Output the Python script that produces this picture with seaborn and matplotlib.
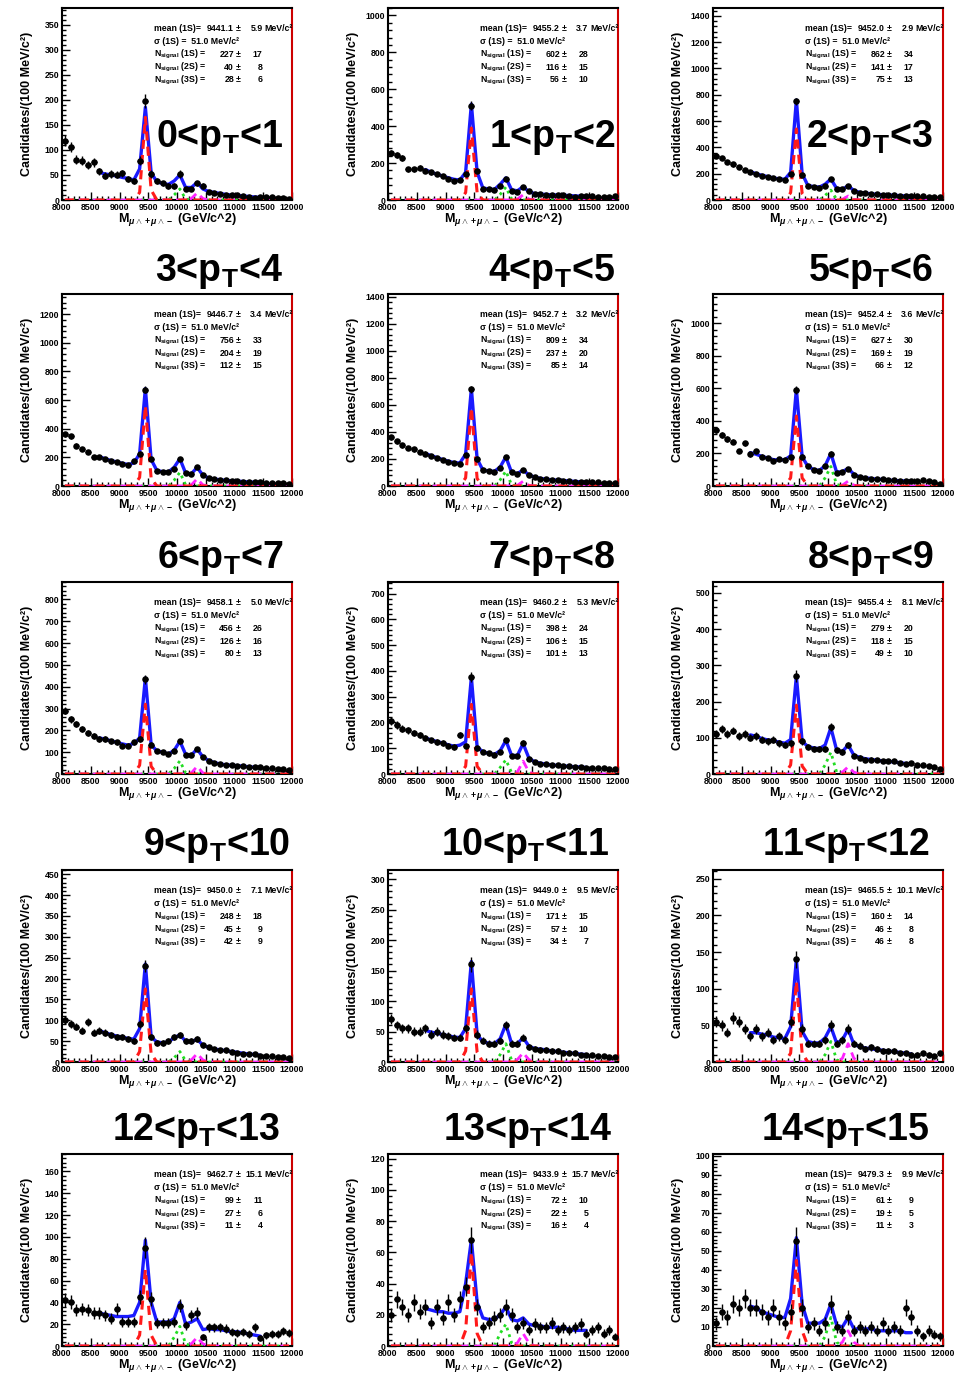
import numpy as np
import matplotlib
matplotlib.use("Agg")
import matplotlib.pyplot as plt
from matplotlib.ticker import MultipleLocator, AutoMinorLocator
import seaborn as sns

sns.set_style("ticks")
plt.rcParams["font.family"] = ["Liberation Sans", "DejaVu Sans"]
plt.rcParams["font.weight"] = "bold"
plt.rcParams["text.color"] = "black"
plt.rcParams["axes.labelcolor"] = "black"
plt.rcParams["xtick.color"] = "black"
plt.rcParams["ytick.color"] = "black"
plt.rcParams["mathtext.fontset"] = "custom"
plt.rcParams["mathtext.rm"] = "Liberation Sans:bold"
plt.rcParams["mathtext.bf"] = "Liberation Sans:bold"
plt.rcParams["mathtext.sf"] = "Liberation Sans:bold"
plt.rcParams["mathtext.it"] = "Liberation Sans:italic:bold"

# ---------------- data ----------------
pt_lo = [0, 1, 2, 3, 4, 5, 6, 7, 8, 9, 10, 11, 12, 13, 14]
pt_hi = [1, 2, 3, 4, 5, 6, 7, 8, 9, 10, 11, 12, 13, 14, 15]

mass_lo, mass_hi, bin_w = 8000, 12000, 100
fit_lo, fit_hi = 8600, 11500

mean_1s = [9441.1, 9455.2, 9452.0, 9446.7, 9452.7, 9452.4, 9458.1, 9460.2,
           9455.4, 9450.0, 9449.0, 9465.5, 9462.7, 9433.9, 9479.3]
mean_1s_err = [5.9, 3.7, 2.9, 3.4, 3.2, 3.6, 5.0, 5.3, 8.1, 7.1, 9.5, 10.1, 15.1, 15.7, 9.9]
sigma_1s = 51.0
n_1s = [227, 602, 862, 756, 809, 627, 456, 398, 279, 248, 171, 160, 99, 72, 61]
n_1s_err = [17, 28, 34, 33, 34, 30, 26, 24, 20, 18, 15, 14, 11, 10, 9]
n_2s = [40, 116, 141, 204, 237, 169, 126, 106, 118, 45, 57, 46, 27, 22, 19]
n_2s_err = [8, 15, 17, 19, 20, 19, 16, 15, 15, 9, 10, 8, 6, 5, 5]
n_3s = [28, 56, 75, 112, 85, 66, 80, 101, 49, 42, 34, 46, 11, 16, 11]
n_3s_err = [6, 10, 13, 15, 14, 12, 13, 13, 10, 9, 7, 8, 4, 4, 3]

# candidate counts per 100 MeV bin (8050 ... 11950)
counts_pt0 = [118, 105, 80, 78, 70, 75, 57, 48, 52, 50, 53, 42, 38, 78, 198, 52, 38, 33, 28, 28,
              52, 22, 22, 33, 28, 15, 14, 12, 10, 10, 10, 8, 5, 4, 6, 6, 5, 4, 3, 2]
counts_pt1 = [256, 244, 229, 167, 167, 176, 158, 149, 140, 131, 113, 104, 107, 140, 511, 158, 59, 57, 54, 77,
              116, 50, 41, 68, 50, 32, 32, 29, 29, 27, 27, 23, 18, 23, 21, 20, 18, 18, 18, 20]
counts_pt2 = [337, 320, 290, 270, 250, 230, 215, 200, 185, 175, 165, 160, 155, 200, 750, 190, 110, 100, 95, 110,
              160, 85, 80, 105, 70, 55, 50, 45, 42, 40, 38, 36, 33, 30, 30, 28, 27, 25, 25, 24]
counts_pt3 = [360, 347, 280, 257, 236, 200, 200, 187, 174, 167, 153, 146, 174, 222, 673, 187, 104, 97, 97, 118,
              187, 90, 83, 132, 76, 55, 49, 42, 40, 35, 35, 30, 28, 25, 25, 22, 20, 18, 18, 16]
counts_pt4 = [360, 330, 300, 280, 270, 250, 240, 225, 210, 195, 180, 170, 165, 230, 715, 200, 115, 110, 105, 130,
              215, 100, 90, 115, 80, 65, 55, 50, 45, 42, 40, 36, 33, 30, 30, 28, 27, 25, 24, 22]
counts_pt5 = [342, 312, 288, 272, 215, 262, 195, 215, 181, 171, 151, 167, 161, 179, 590, 181, 121, 101, 91, 121,
              199, 80, 87, 107, 70, 54, 50, 46, 40, 40, 34, 34, 30, 30, 30, 30, 34, 30, 22, 14]
counts_pt6 = [290, 250, 230, 205, 190, 175, 160, 160, 150, 145, 130, 130, 145, 160, 435, 135, 105, 100, 90, 105,
              150, 88, 85, 115, 78, 60, 50, 45, 40, 40, 38, 36, 33, 30, 30, 28, 27, 25, 22, 20]
counts_pt7 = [205, 190, 175, 170, 160, 150, 140, 130, 125, 120, 110, 105, 150, 110, 375, 100, 85, 80, 75, 85,
              130, 70, 70, 120, 60, 45, 40, 38, 35, 33, 30, 30, 28, 27, 25, 25, 23, 22, 20, 18]
counts_pt8 = [110, 125, 110, 120, 105, 110, 100, 105, 95, 90, 95, 85, 80, 85, 270, 90, 75, 70, 70, 70,
              130, 65, 60, 80, 50, 45, 40, 40, 38, 35, 35, 35, 30, 28, 30, 25, 25, 22, 20, 15]
counts_pt9 = [100, 90, 85, 75, 95, 70, 75, 70, 65, 60, 60, 55, 50, 90, 230, 60, 45, 45, 50, 60,
              65, 50, 50, 55, 40, 35, 30, 28, 28, 25, 22, 20, 18, 18, 15, 15, 14, 12, 12, 10]
counts_pt10 = [70, 60, 55, 55, 50, 50, 55, 45, 50, 45, 42, 40, 40, 55, 160, 45, 35, 30, 30, 35,
               60, 30, 30, 40, 25, 22, 20, 20, 18, 18, 15, 15, 15, 12, 12, 12, 10, 10, 8, 8]
counts_pt11 = [55, 50, 40, 60, 55, 45, 35, 45, 35, 40, 30, 35, 30, 55, 140, 45, 25, 25, 25, 30,
               50, 25, 30, 45, 25, 22, 18, 20, 18, 15, 15, 15, 12, 12, 10, 10, 12, 10, 8, 12]
counts_pt12 = [42, 40, 33, 34, 33, 30, 30, 28, 25, 34, 22, 22, 22, 45, 90, 43, 21, 21, 21, 22,
               37, 19, 28, 30, 8, 17, 17, 17, 16, 13, 12, 13, 11, 17, 7, 10, 11, 11, 14, 12]
counts_pt13 = [20, 30, 25, 20, 28, 22, 25, 15, 25, 18, 28, 20, 30, 38, 68, 25, 12, 15, 18, 20,
               25, 20, 12, 15, 10, 14, 12, 12, 15, 10, 12, 10, 12, 14, 8, 10, 12, 8, 10, 6]
counts_pt14 = [12, 18, 15, 22, 20, 25, 20, 20, 18, 15, 20, 15, 12, 18, 55, 20, 10, 12, 8, 12,
               22, 10, 8, 15, 8, 10, 8, 10, 8, 12, 8, 10, 8, 20, 15, 8, 5, 8, 6, 5]

# total fit curve at bin centres 8650 ... 11450
fit_pt0 = [55, 52, 50, 48, 45, 43, 40, 62, 185, 55, 36, 33, 31, 38, 50, 25, 25, 35, 22, 17, 15, 13, 11, 10, 9, 8, 7, 6, 5]
fit_pt1 = [165, 150, 140, 130, 120, 112, 108, 150, 520, 150, 65, 60, 57, 85, 120, 55, 50, 72, 45, 35, 32, 30, 28, 27, 25, 24, 22, 21, 20]
fit_pt2 = [215, 200, 188, 178, 168, 160, 158, 210, 760, 200, 110, 102, 98, 120, 160, 88, 82, 108, 72, 58, 52, 47, 43, 40, 38, 36, 33, 31, 30]
fit_pt3 = [205, 190, 178, 168, 158, 150, 160, 225, 680, 185, 108, 100, 98, 130, 190, 90, 85, 130, 75, 56, 49, 43, 40, 36, 34, 31, 28, 26, 25]
fit_pt4 = [240, 225, 210, 196, 183, 173, 170, 235, 720, 200, 118, 112, 108, 140, 215, 100, 92, 118, 82, 66, 56, 50, 46, 43, 40, 37, 34, 31, 30]
fit_pt5 = [205, 195, 182, 172, 162, 160, 162, 185, 595, 180, 120, 102, 95, 125, 200, 85, 88, 108, 72, 56, 50, 46, 42, 40, 36, 34, 32, 31, 30]
fit_pt6 = [165, 160, 152, 145, 138, 132, 140, 165, 440, 135, 105, 100, 92, 108, 150, 90, 86, 115, 78, 62, 52, 46, 42, 40, 38, 36, 33, 31, 30]
fit_pt7 = [140, 132, 126, 120, 113, 108, 112, 125, 375, 105, 86, 80, 76, 90, 130, 72, 72, 118, 62, 47, 42, 38, 35, 33, 31, 30, 28, 27, 25]
fit_pt8 = [108, 104, 98, 94, 92, 88, 85, 95, 270, 90, 76, 72, 70, 80, 128, 66, 62, 80, 52, 46, 42, 40, 38, 36, 35, 33, 31, 29, 28]
fit_pt9 = [75, 70, 66, 62, 60, 56, 55, 80, 235, 60, 48, 46, 48, 58, 65, 50, 48, 55, 40, 35, 31, 29, 27, 25, 23, 21, 19, 18, 16]
fit_pt10 = [52, 49, 47, 45, 43, 41, 40, 55, 165, 45, 33, 31, 30, 38, 62, 30, 30, 40, 26, 22, 21, 20, 18, 17, 16, 15, 14, 13, 12]
fit_pt11 = [40, 40, 38, 37, 34, 33, 32, 48, 140, 42, 28, 26, 26, 33, 48, 26, 30, 45, 24, 21, 19, 18, 17, 16, 15, 14, 13, 12, 11]
fit_pt12 = [30, 29, 28, 27, 27, 27, 28, 40, 97, 40, 22, 22, 22, 25, 40, 20, 22, 25, 15, 16, 15, 15, 14, 13, 13, 12, 11, 10, 9]
fit_pt13 = [24, 23, 22, 22, 21, 21, 22, 40, 68, 28, 18, 17, 17, 20, 25, 17, 16, 18, 14, 13, 13, 12, 12, 12, 11, 11, 10, 10, 10]
fit_pt14 = [21, 20, 18, 17, 16, 15, 15, 25, 57, 22, 12, 12, 12, 14, 22, 11, 10, 15, 9, 9, 9, 9, 8, 8, 8, 8, 8, 7, 7]

# signal components around each peak (three bins each)
y1s_pt = [[15, 165, 20], [40, 390, 40], [55, 540, 50], [60, 560, 55], [60, 580, 55],
          [50, 430, 50], [40, 320, 35], [30, 270, 30], [25, 190, 22], [25, 175, 20],
          [18, 120, 16], [12, 110, 12], [10, 70, 10], [10, 60, 8], [8, 45, 8]]
y2s_pt = [[10, 22, 2], [30, 70, 5], [35, 75, 5], [40, 95, 8], [45, 110, 8],
          [50, 120, 10], [25, 60, 5], [25, 55, 5], [25, 60, 5], [10, 25, 3],
          [12, 30, 3], [10, 28, 3], [8, 18, 2], [8, 14, 2], [5, 15, 2]]
y3s_pt = [[3, 14, 3], [5, 28, 5], [5, 30, 5], [8, 50, 8], [5, 35, 5],
          [5, 30, 5], [5, 35, 5], [8, 50, 8], [5, 20, 5], [5, 20, 5],
          [4, 15, 4], [5, 25, 5], [2, 8, 2], [2, 8, 2], [2, 8, 2]]

counts_all = [counts_pt0, counts_pt1, counts_pt2, counts_pt3, counts_pt4, counts_pt5, counts_pt6,
              counts_pt7, counts_pt8, counts_pt9, counts_pt10, counts_pt11, counts_pt12,
              counts_pt13, counts_pt14]
fit_all = [fit_pt0, fit_pt1, fit_pt2, fit_pt3, fit_pt4, fit_pt5, fit_pt6, fit_pt7, fit_pt8,
           fit_pt9, fit_pt10, fit_pt11, fit_pt12, fit_pt13, fit_pt14]

# ---------------- layout / style ----------------
y_top = [383, 1040, 1460, 1340, 1420, 1180, 880, 745, 530, 460, 315, 262, 176, 123, 101]
y_step = [50, 200, 200, 200, 200, 200, 100, 100, 100, 50, 50, 50, 20, 20, 10]

W, H = 965, 1375
fig = plt.figure(figsize=(W / 100, H / 100), dpi=100)
col_left = [62, 388, 713]
row_top = [8, 294, 582, 870, 1154]
ax_w, ax_h = 230, 192
title_right = [[283, 615, 933], [283, 615, 933], [283, 615, 933], [290, 610, 930], [280, 612, 930]]
title_base = [147, 281, 568, 855, 1140]

centers = np.arange(mass_lo + bin_w / 2, mass_hi, bin_w)
fit_x = centers[(centers > fit_lo) & (centers < fit_hi)]
idx1 = np.searchsorted(centers, 9450)
idx2 = np.searchsorted(centers, 10050)
idx3 = np.searchsorted(centers, 10350)

blue = "#1a1aff"
red = "#ff1a1a"
green = "#22dd22"
magenta = "#ff22ff"

for i in range(15):
    r, c = divmod(i, 3)
    ax = fig.add_axes([col_left[c] / W, 1 - (row_top[r] + ax_h) / H, ax_w / W, ax_h / H])
    y = np.asarray(counts_all[i], dtype=float)

    comp1 = np.zeros_like(centers)
    comp1[idx1 - 1:idx1 + 2] = y1s_pt[i]
    comp2 = np.zeros_like(centers)
    comp2[idx2 - 1:idx2 + 2] = y2s_pt[i]
    comp3 = np.zeros_like(centers)
    comp3[idx3 - 1:idx3 + 2] = y3s_pt[i]

    sns.lineplot(x=fit_x, y=fit_all[i], ax=ax, color=blue, linewidth=2.4, zorder=3)
    ax.plot(centers, comp2, color=green, linestyle=(0, (1, 1.5)), linewidth=2.0, zorder=4)
    ax.plot(centers, comp3, color=magenta, linestyle=(0, (3, 2)), linewidth=2.0, zorder=4)
    ax.plot(centers, comp1, color=red, linestyle=(0, (3, 2)), linewidth=2.2, zorder=4)

    ax.errorbar(centers, y, yerr=np.sqrt(y), xerr=bin_w / 2, fmt="none",
                ecolor="black", elinewidth=1.0, capsize=0, zorder=5)
    sns.scatterplot(x=centers, y=y, ax=ax, color="black", s=22, marker="o",
                    linewidth=0, zorder=6)

    ax.set_xlim(mass_lo, mass_hi)
    ax.set_ylim(0, y_top[i])
    ax.xaxis.set_major_locator(MultipleLocator(500))
    ax.xaxis.set_minor_locator(AutoMinorLocator(5))
    ax.yaxis.set_major_locator(MultipleLocator(y_step[i]))
    ax.yaxis.set_minor_locator(AutoMinorLocator(5))
    ax.tick_params(which="both", direction="in", top=False, right=False,
                   labelsize=6.3, pad=2, width=1.0, color="black")
    ax.tick_params(which="major", length=6)
    ax.tick_params(which="minor", length=3)
    for lab in ax.get_xticklabels() + ax.get_yticklabels():
        lab.set_fontweight("bold")
    for s in ["left", "bottom", "top"]:
        ax.spines[s].set_color("black")
        ax.spines[s].set_linewidth(1.5)
    ax.spines["right"].set_color("#cc0000")
    ax.spines["right"].set_linewidth(1.5)

    ax.set_ylabel("Candidates/(100 MeV/c²)", fontsize=9, fontweight="bold")
    ax.yaxis.set_label_coords(-0.125, 0.5)
    ax.set_xlabel(r"M$_{\mu\wedge+\mu\wedge-}$ (GeV/c^2)", fontsize=9, fontweight="bold")
    ax.xaxis.set_label_coords(0.5, -0.058)

    # fit info
    fs = 6.3
    ly = [0.895, 0.828, 0.757, 0.692, 0.625]
    x0, xv, xpm, xe, xu = 0.40, 0.748, 0.757, 0.872, 0.882
    kw = dict(transform=ax.transAxes, fontsize=fs, fontweight="bold", va="center", zorder=7)
    ax.text(x0, ly[0], "mean (1S)=", ha="left", **kw)
    ax.text(xv, ly[0], f"{mean_1s[i]:.1f}", ha="right", **kw)
    ax.text(xpm, ly[0], "±", ha="left", **kw)
    ax.text(xe, ly[0], f"{mean_1s_err[i]:.1f}", ha="right", **kw)
    ax.text(xu, ly[0], "MeV/c²", ha="left", **kw)
    ax.text(x0, ly[1], f"σ (1S) =  {sigma_1s:.1f} MeV/c²", ha="left", **kw)
    for k, (lab, n, e) in enumerate([("1S", n_1s[i], n_1s_err[i]),
                                      ("2S", n_2s[i], n_2s_err[i]),
                                      ("3S", n_3s[i], n_3s_err[i])]):
        yy = ly[2 + k]
        ax.text(x0, yy, r"N$_{\rm signal}$" + f" ({lab}) =", ha="left", **kw)
        ax.text(xv, yy, f"{n}", ha="right", **kw)
        ax.text(xpm, yy, "±", ha="left", **kw)
        ax.text(xe, yy, f"{e}", ha="right", **kw)

    fig.text(title_right[r][c] / W, 1 - title_base[r] / H,
             f"{pt_lo[i]}<p" + r"$_{\rm T}$" + f"<{pt_hi[i]}",
             ha="right", va="baseline", fontsize=27, fontweight="bold", zorder=10)

fig.savefig("out.png", dpi=100)
